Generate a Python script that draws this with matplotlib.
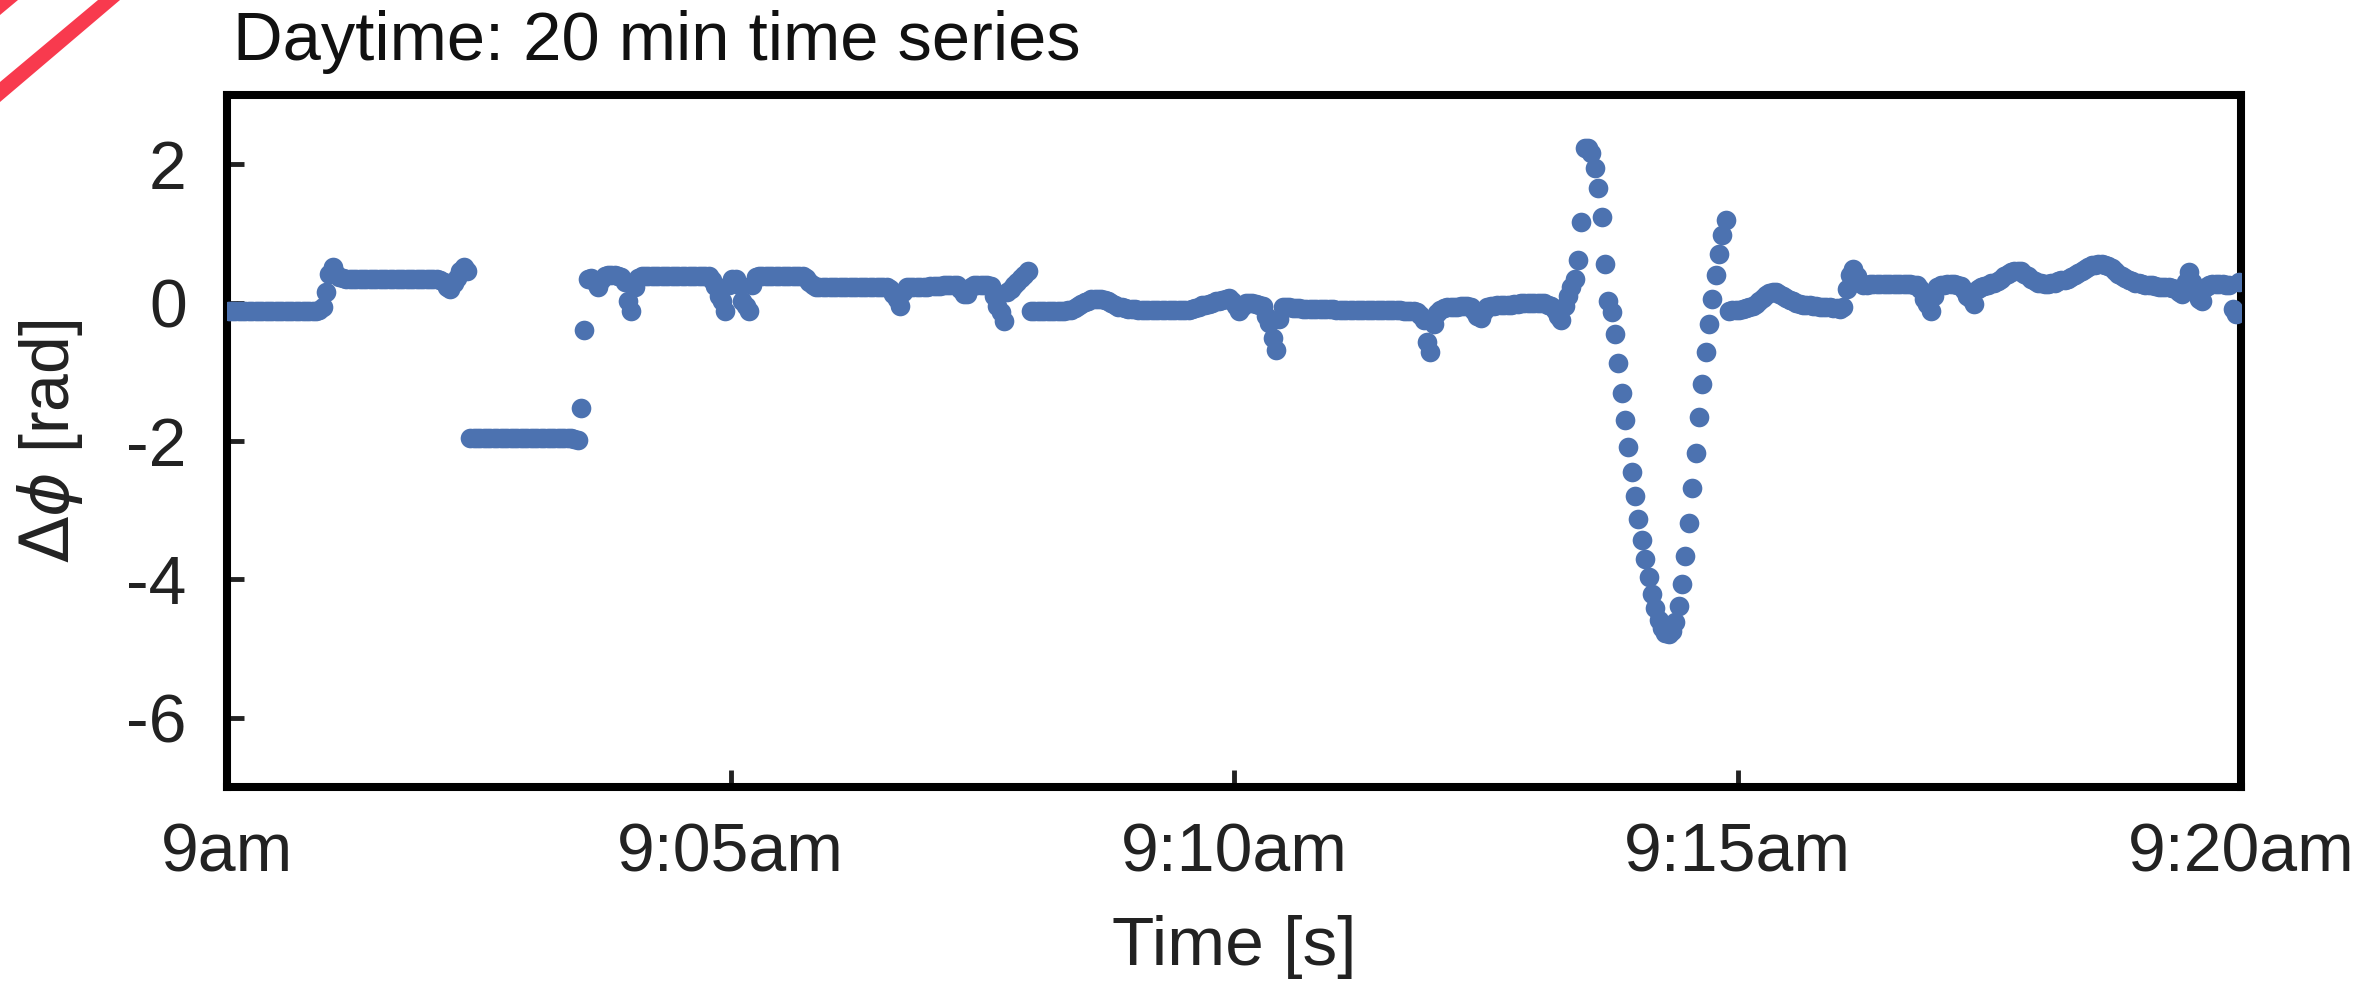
import numpy as np
import matplotlib
matplotlib.use("Agg")
import matplotlib.pyplot as plt
from matplotlib.patches import Polygon

# phase difference, one sample every 2 s from 9:00:01
time_s = np.arange(1, 1200, 2)
dphi_rad = [
    -0.12, -0.12, -0.12, -0.12, -0.12, -0.12, -0.12, -0.12, -0.12, -0.12,
    -0.12, -0.12, -0.12, -0.12, -0.12, -0.12, -0.12, -0.12, -0.12, -0.12,
    -0.12, -0.12, -0.12, -0.12, -0.12, -0.12, -0.12, -0.11, -0.07, 0.15,
    0.41, 0.51, 0.42, 0.37, 0.35, 0.34, 0.34, 0.34, 0.34, 0.34,
    0.34, 0.34, 0.34, 0.34, 0.34, 0.34, 0.34, 0.34, 0.34, 0.34,
    0.34, 0.34, 0.34, 0.34, 0.34, 0.34, 0.34, 0.34, 0.34, 0.34,
    0.34, 0.34, 0.34, 0.33, 0.30, 0.22, 0.20, 0.28, 0.36, 0.46,
    0.51, 0.46, -1.96, -1.96, -1.96, -1.96, -1.96, -1.96, -1.96, -1.96,
    -1.96, -1.96, -1.96, -1.96, -1.96, -1.96, -1.96, -1.96, -1.96, -1.96,
    -1.96, -1.96, -1.96, -1.96, -1.96, -1.96, -1.96, -1.96, -1.96, -1.96,
    -1.96, -1.96, -1.96, -1.97, -1.98, -1.53, -0.40, 0.34, 0.36, 0.30,
    0.22, 0.33, 0.39, 0.40, 0.40, 0.40, 0.39, 0.37, 0.30, 0.03,
    -0.12, 0.22, 0.36, 0.39, 0.39, 0.39, 0.39, 0.39, 0.39, 0.39,
    0.39, 0.39, 0.39, 0.39, 0.39, 0.39, 0.39, 0.39, 0.39, 0.39,
    0.39, 0.39, 0.39, 0.38, 0.33, 0.24, 0.10, 0.03, -0.12, 0.25,
    0.34, 0.34, 0.25, 0.03, -0.05, -0.12, 0.25, 0.37, 0.39, 0.39,
    0.39, 0.39, 0.39, 0.39, 0.39, 0.39, 0.39, 0.39, 0.39, 0.39,
    0.39, 0.38, 0.35, 0.30, 0.25, 0.22, 0.22, 0.22, 0.22, 0.22,
    0.22, 0.22, 0.22, 0.22, 0.22, 0.22, 0.22, 0.22, 0.22, 0.22,
    0.22, 0.22, 0.22, 0.22, 0.22, 0.22, 0.22, 0.20, 0.12, 0.05,
    -0.05, 0.15, 0.22, 0.22, 0.22, 0.23, 0.23, 0.23, 0.23, 0.24,
    0.24, 0.24, 0.24, 0.25, 0.25, 0.25, 0.25, 0.25, 0.20, 0.12,
    0.13, 0.22, 0.25, 0.25, 0.25, 0.25, 0.25, 0.24, 0.10, -0.05,
    -0.14, -0.26, 0.15, 0.20, 0.25, 0.30, 0.36, 0.40, 0.45, -0.12,
    -0.12, -0.12, -0.12, -0.12, -0.12, -0.12, -0.12, -0.12, -0.12, -0.12,
    -0.11, -0.10, -0.08, -0.05, -0.02, 0.01, 0.03, 0.05, 0.05, 0.05,
    0.05, 0.04, 0.02, -0.01, -0.04, -0.06, -0.07, -0.08, -0.09, -0.09,
    -0.09, -0.10, -0.10, -0.10, -0.10, -0.10, -0.10, -0.10, -0.10, -0.10,
    -0.10, -0.10, -0.10, -0.10, -0.10, -0.10, -0.10, -0.09, -0.08, -0.06,
    -0.04, -0.03, -0.02, 0.00, 0.02, 0.03, 0.04, 0.05, 0.06, 0.03,
    -0.05, -0.12, -0.06, 0.00, 0.00, -0.01, -0.02, -0.04, -0.05, -0.19,
    -0.30, -0.51, -0.68, -0.24, -0.07, -0.06, -0.07, -0.08, -0.08, -0.08,
    -0.09, -0.09, -0.09, -0.09, -0.09, -0.09, -0.09, -0.09, -0.09, -0.09,
    -0.10, -0.10, -0.10, -0.10, -0.10, -0.10, -0.10, -0.10, -0.10, -0.10,
    -0.11, -0.11, -0.11, -0.11, -0.11, -0.11, -0.11, -0.11, -0.11, -0.11,
    -0.12, -0.12, -0.12, -0.12, -0.14, -0.18, -0.25, -0.57, -0.72, -0.31,
    -0.15, -0.10, -0.08, -0.07, -0.07, -0.06, -0.06, -0.05, -0.05, -0.05,
    -0.06, -0.12, -0.20, -0.22, -0.12, -0.06, -0.05, -0.05, -0.04, -0.04,
    -0.04, -0.03, -0.03, -0.02, -0.02, -0.01, -0.01, 0.00, 0.00, 0.00,
    0.00, 0.00, -0.01, -0.03, -0.05, -0.10, -0.20, -0.25, -0.05, 0.10,
    0.22, 0.34, 0.62, 1.17, 2.24, 2.24, 2.16, 1.95, 1.66, 1.24,
    0.56, 0.02, -0.13, -0.46, -0.88, -1.31, -1.70, -2.09, -2.45, -2.79,
    -3.12, -3.43, -3.70, -3.97, -4.21, -4.41, -4.59, -4.70, -4.77, -4.79,
    -4.74, -4.62, -4.39, -4.07, -3.66, -3.18, -2.68, -2.17, -1.66, -1.17,
    -0.72, -0.31, 0.05, 0.40, 0.70, 0.97, 1.20, -0.12, -0.11, -0.10,
    -0.10, -0.09, -0.08, -0.07, -0.05, -0.02, 0.02, 0.07, 0.11, 0.14,
    0.15, 0.15, 0.13, 0.10, 0.07, 0.04, 0.02, 0.00, -0.02, -0.03,
    -0.04, -0.04, -0.05, -0.05, -0.06, -0.06, -0.07, -0.07, -0.08, -0.08,
    -0.09, -0.07, 0.19, 0.40, 0.49, 0.38, 0.28, 0.26, 0.26, 0.27,
    0.27, 0.27, 0.27, 0.27, 0.27, 0.27, 0.27, 0.27, 0.27, 0.27,
    0.27, 0.27, 0.26, 0.25, 0.20, 0.05, -0.02, -0.12, 0.10, 0.22,
    0.25, 0.26, 0.27, 0.27, 0.27, 0.26, 0.24, 0.18, 0.10, 0.05,
    -0.02, 0.20, 0.22, 0.24, 0.26, 0.28, 0.29, 0.31, 0.34, 0.38,
    0.41, 0.44, 0.46, 0.46, 0.45, 0.42, 0.38, 0.34, 0.31, 0.29,
    0.28, 0.27, 0.27, 0.28, 0.29, 0.31, 0.32, 0.33, 0.34, 0.37,
    0.40, 0.43, 0.46, 0.49, 0.52, 0.54, 0.55, 0.56, 0.56, 0.55,
    0.53, 0.50, 0.46, 0.42, 0.38, 0.35, 0.33, 0.31, 0.29, 0.28,
    0.27, 0.26, 0.25, 0.25, 0.24, 0.23, 0.23, 0.22, 0.22, 0.21,
    0.20, 0.15, 0.12, 0.30, 0.44, 0.30, 0.18, 0.05, 0.03, 0.22,
    0.26, 0.27, 0.27, 0.27, 0.27, 0.26, 0.25, -0.09, -0.17, 0.30,
]

x_ticks = [0, 300, 600, 900, 1200]
x_tick_labels = ["9am", "9:05am", "9:10am", "9:15am", "9:20am"]
y_ticks = [-6, -4, -2, 0, 2]

plt.rcParams["font.family"] = ["Liberation Sans", "DejaVu Sans"]
plt.rcParams["axes.unicode_minus"] = False
plt.rcParams["mathtext.fontset"] = "dejavusans"

W, H = 2355, 985


def px(x, y):
    return (x / W, 1 - y / H)


fig = plt.figure(figsize=(W / 100, H / 100), dpi=100)
ax = fig.add_axes([227 / W, 1 - 787 / H, (2241 - 227) / W, (787 - 95) / H])

ax.scatter(time_s, dphi_rad, s=200, color="#4c72b0", linewidths=0, zorder=3)

ax.set_xlim(0, 1200)
ax.set_ylim(-7, 3)
ax.set_xticks(x_ticks)
ax.set_xticklabels(x_tick_labels)
ax.set_yticks(y_ticks)
ax.set_yticklabels([str(v) for v in y_ticks])

for sp in ax.spines.values():
    sp.set_linewidth(5.8)
    sp.set_color("black")

ax.tick_params(direction="in", length=12, width=3.5, labelsize=49,
               color="#222222", labelcolor="#222222")
ax.tick_params(axis="x", pad=25)
ax.tick_params(axis="y", pad=29)

ax.set_xlabel("Time [s]", fontsize=50, color="#222222")
ax.xaxis.set_label_coords(0.5, -0.185)
ax.set_ylabel(r"$\Delta\phi$ [rad]", fontsize=49, color="#222222")
ax.yaxis.set_label_coords(-0.0705, 0.5)

fig.text(233 / W, 1 - 60 / H, "Daytime: 20 min time series", fontsize=49.5,
         ha="left", va="baseline", color="#111111")

# red corner stripes
red = "#f83a4e"
fig.add_artist(Polygon([px(0, 82), px(98, 0), px(120, 0), px(0, 102)],
                       closed=True, transform=fig.transFigure,
                       facecolor=red, edgecolor="none"))
fig.add_artist(Polygon([px(0, 0), px(0, 15), px(18, 0)],
                       closed=True, transform=fig.transFigure,
                       facecolor=red, edgecolor="none"))

fig.savefig("out.png", dpi=100)
